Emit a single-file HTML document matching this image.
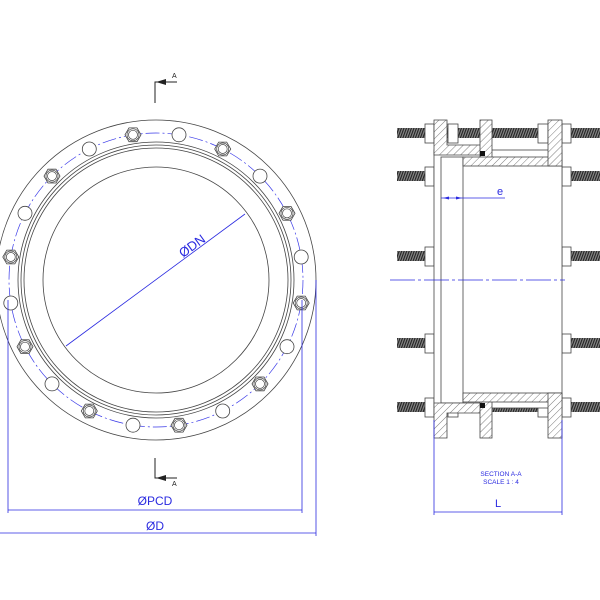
<!DOCTYPE html>
<html><head><meta charset="utf-8"><style>
html,body{margin:0;padding:0;background:#fff;}
svg{display:block;}
text{font-family:"Liberation Sans",sans-serif;fill:#2a2ae0;}
</style></head><body>
<svg width="600" height="600" viewBox="0 0 600 600" xmlns="http://www.w3.org/2000/svg">
<defs>
<pattern id="h" width="5" height="5" patternUnits="userSpaceOnUse" patternTransform="rotate(45)">
<rect width="5" height="5" fill="#fff"/><line x1="0" y1="0" x2="0" y2="5" stroke="#444" stroke-width="0.7"/></pattern>
<pattern id="th" width="2.5" height="10" patternUnits="userSpaceOnUse" patternTransform="skewX(-20)">
<rect width="2.5" height="10" fill="#888"/><line x1="0.6" y1="0" x2="0.6" y2="10" stroke="#222" stroke-width="1.2"/></pattern>
<g id="hex"><polygon points="8,0 4,6.9 -4,6.9 -8,0 -4,-6.9 4,-6.9" fill="#fff" stroke="#444" stroke-width="0.8"/><circle r="6" fill="none" stroke="#444" stroke-width="0.7"/><circle r="4.5" fill="none" stroke="#444" stroke-width="0.7"/></g>
<circle id="hole" r="7" fill="#fff" stroke="#444" stroke-width="0.8"/>
</defs>

<!-- LEFT VIEW -->
<g fill="none" stroke="#444" stroke-width="0.8">
<circle cx="156" cy="280" r="160"/>
<circle cx="156" cy="280" r="138"/>
<circle cx="156" cy="280" r="135"/>
<circle cx="156" cy="280" r="132"/>
<circle cx="156" cy="280" r="113"/>
</g>
<circle cx="156" cy="280" r="147" fill="none" stroke="#3a3ae8" stroke-width="0.7" stroke-dasharray="14,3,2,3"/>
<use href="#hole" x="301.2" y="257"/><use href="#hex" x="287" y="213.3"/>
<use href="#hole" x="260" y="176.1"/><use href="#hex" x="222.7" y="149"/>
<use href="#hole" x="179" y="134.8"/><use href="#hex" x="133" y="134.8"/>
<use href="#hole" x="89.3" y="149"/><use href="#hex" x="52" y="176.1"/>
<use href="#hole" x="25" y="213.3"/><use href="#hex" x="10.8" y="257"/>
<use href="#hole" x="10.8" y="303"/><use href="#hex" x="25" y="346.7"/>
<use href="#hole" x="52" y="383.9"/><use href="#hex" x="89.3" y="411"/>
<use href="#hole" x="133" y="425.2"/><use href="#hex" x="179" y="425.2"/>
<use href="#hole" x="222.7" y="411"/><use href="#hex" x="260" y="383.9"/>
<use href="#hole" x="287" y="346.7"/><use href="#hex" x="301.2" y="303"/>
<!-- DN dimension -->
<line x1="66" y1="346" x2="245" y2="214" stroke="#2a2ae0" stroke-width="0.8"/>
<text x="183" y="258" font-size="13" transform="rotate(-36 183 258)">ØDN</text>
<!-- section marks -->
<g stroke="#222" stroke-width="1" fill="none"><polyline points="155,103 155,82 177,82"/><polyline points="155,458 155,478 177,478"/></g>
<polygon points="156,82 166,79 166,85" fill="#222"/><polygon points="156,478 166,475 166,481" fill="#222"/>
<text x="172" y="78" font-size="7" style="fill:#222">A</text><text x="172" y="486" font-size="7" style="fill:#222">A</text>
<!-- PCD / D dims -->
<g stroke="#2a2ae0" stroke-width="0.8">
<line x1="8" y1="300" x2="8" y2="513"/><line x1="302" y1="300" x2="302" y2="513"/>
<line x1="8" y1="510" x2="302" y2="510"/>
<line x1="316" y1="280" x2="316" y2="536"/>
<line x1="0" y1="533" x2="316" y2="533"/>
</g>
<text x="155" y="505" font-size="12" text-anchor="middle">ØPCD</text>
<text x="155" y="530" font-size="12" text-anchor="middle">ØD</text>

<!-- RIGHT VIEW -->
<g fill="url(#th)">
<rect x="397" y="128" width="203" height="10"/>
<rect x="397" y="402" width="203" height="10"/>
<rect x="397" y="171" width="30" height="10"/><rect x="570" y="171" width="30" height="10"/>
<rect x="397" y="251" width="30" height="10"/><rect x="570" y="251" width="30" height="10"/>
<rect x="397" y="338" width="30" height="10"/><rect x="570" y="338" width="30" height="10"/>
</g>
<g fill="#fff" stroke="#444" stroke-width="0.8">
<rect x="425" y="124" width="9" height="19"/><rect x="562" y="124" width="9" height="19"/>
<rect x="425" y="398" width="9" height="19"/><rect x="562" y="398" width="9" height="19"/>
<rect x="425" y="167" width="9" height="19"/><rect x="562" y="167" width="9" height="19"/>
<rect x="425" y="247" width="9" height="19"/><rect x="562" y="247" width="9" height="19"/>
<rect x="425" y="334" width="9" height="19"/><rect x="562" y="334" width="9" height="19"/>
<rect x="448" y="124" width="10" height="19"/><rect x="538" y="124" width="10" height="19"/>
<rect x="448" y="398" width="10" height="19"/><rect x="538" y="398" width="10" height="19"/>
<rect x="434" y="150" width="128" height="258"/>
<rect x="441" y="157" width="22" height="246"/>
</g>
<g fill="url(#h)" stroke="#444" stroke-width="0.8">
<polygon points="434,120 447,120 447,145 485,145 485,155 434,155"/>
<rect x="480" y="120" width="12" height="38"/>
<rect x="463" y="157" width="99" height="9"/>
<rect x="548" y="120" width="14" height="46"/>
<polygon points="434,438 447,438 447,413 485,413 485,403 434,403"/>
<rect x="480" y="400" width="12" height="38"/>
<rect x="463" y="393" width="99" height="9"/>
<rect x="548" y="393" width="14" height="45"/>
</g>
<rect x="480" y="151" width="5" height="5" fill="#111"/>
<rect x="480" y="403" width="5" height="5" fill="#111"/>
<line x1="390" y1="280" x2="565" y2="280" stroke="#2a2ae0" stroke-width="0.7" stroke-dasharray="25,3,3,3"/>
<line x1="441" y1="198" x2="505" y2="198" stroke="#2a2ae0" stroke-width="0.7"/>
<polygon points="443,198 449,196.5 449,199.5" fill="#2a2ae0"/><polygon points="462,198 456,196.5 456,199.5" fill="#2a2ae0"/>
<text x="497" y="195" font-size="11">e</text>
<g stroke="#2a2ae0" stroke-width="0.8">
<line x1="434" y1="420" x2="434" y2="515"/><line x1="562" y1="420" x2="562" y2="515"/>
<line x1="434" y1="512" x2="562" y2="512"/></g>
<text x="498" y="507" font-size="11" text-anchor="middle">L</text>
<text x="501" y="476" font-size="6.5" text-anchor="middle">SECTION A-A</text>
<text x="501" y="484" font-size="6.5" text-anchor="middle">SCALE 1 : 4</text>
</svg>
</body></html>
